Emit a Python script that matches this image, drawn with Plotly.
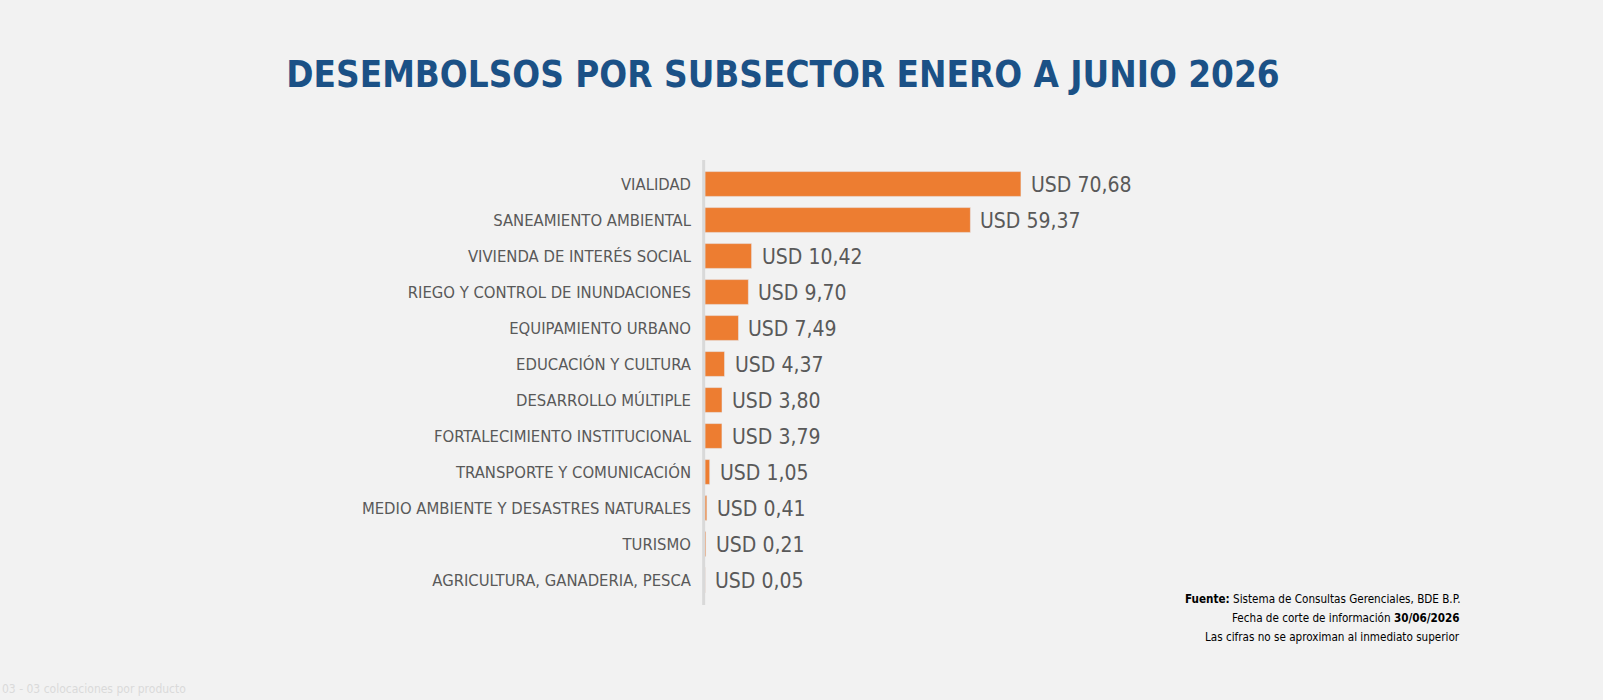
import plotly.graph_objects as go

subsectores = [
    "VIALIDAD",
    "SANEAMIENTO AMBIENTAL",
    "VIVIENDA DE INTERÉS SOCIAL",
    "RIEGO Y CONTROL DE INUNDACIONES",
    "EQUIPAMIENTO URBANO",
    "EDUCACIÓN Y CULTURA",
    "DESARROLLO MÚLTIPLE",
    "FORTALECIMIENTO INSTITUCIONAL",
    "TRANSPORTE Y COMUNICACIÓN",
    "MEDIO AMBIENTE Y DESASTRES NATURALES",
    "TURISMO",
    "AGRICULTURA, GANADERIA, PESCA",
]
montos = [70.68, 59.37, 10.42, 9.70, 7.49, 4.37, 3.80, 3.79, 1.05, 0.41, 0.21, 0.05]
etiquetas = ["USD " + f"{v:.2f}".replace(".", ",") for v in montos]

FONT = "DejaVu Sans Condensed, Liberation Sans Narrow, Roboto, sans-serif"
GRIS = "#595959"
W, H = 1603, 700
L, R, T, B = 705, 451, 166, 102

fig = go.Figure(go.Bar(
    x=montos,
    y=subsectores,
    orientation="h",
    marker=dict(color="#ED7D31"),
    width=0.69,
    hoverinfo="x+y",
))

# value labels next to each bar
for sub, v, lab in zip(subsectores, montos, etiquetas):
    fig.add_annotation(x=v, y=sub, text=lab, xanchor="left", yanchor="middle",
                       xshift=8, yshift=-1, showarrow=False,
                       font=dict(family=FONT, size=21, color=GRIS))

fig.update_layout(
    width=W,
    height=H,
    paper_bgcolor="#F2F2F2",
    plot_bgcolor="#F2F2F2",
    margin=dict(l=L, r=R, t=T, b=B),
    showlegend=False,
    title=dict(
        text="<b>DESEMBOLSOS POR SUBSECTOR ENERO A JUNIO 2026</b>",
        x=783 / W, xanchor="center",
        y=1 - 74 / H, yanchor="middle",
        font=dict(family=FONT, size=36.5, color="#1B5186"),
    ),
    font=dict(family=FONT, color=GRIS),
)

fig.update_xaxes(range=[0, 100], visible=False, showgrid=False)
fig.update_yaxes(
    categoryorder="array", categoryarray=subsectores, autorange="reversed",
    showgrid=False, showline=False, ticks="",
    tickfont=dict(family=FONT, size=16.5, color=GRIS),
    ticklabelstandoff=13,
)

pw = W - L - R
ph = H - T - B

# vertical axis line
fig.add_shape(type="line", xref="paper", yref="paper", x0=-0.003, x1=-0.003,
              y0=-7 / ph, y1=1 + 6 / ph, line=dict(color="#D9D9D9", width=3))

notas = [
    "<b>Fuente:</b> Sistema de Consultas Gerenciales, BDE B.P.",
    "Fecha de corte de información <b>30/06/2026</b>",
    "Las cifras no se aproximan al inmediato superior",
]
for i, t in enumerate(notas):
    fig.add_annotation(text=t, xref="paper", yref="paper", x=(1462 - L) / pw,
                       y=(H - B - (599 + i * 19)) / ph, xanchor="right", yanchor="middle",
                       showarrow=False, font=dict(family=FONT, size=11.6, color="#000000"))

fig.add_annotation(text="03 - 03 colocaciones por producto", xref="paper", yref="paper",
                   x=-L / pw, y=(H - B - 689) / ph, xanchor="left", yanchor="middle",
                   showarrow=False, font=dict(family=FONT, size=12, color="#DADADA"))

fig.write_html("out.html", config={"displayModeBar": False},
               post_script="document.body.style.margin='0';document.body.style.background='#F2F2F2';")
